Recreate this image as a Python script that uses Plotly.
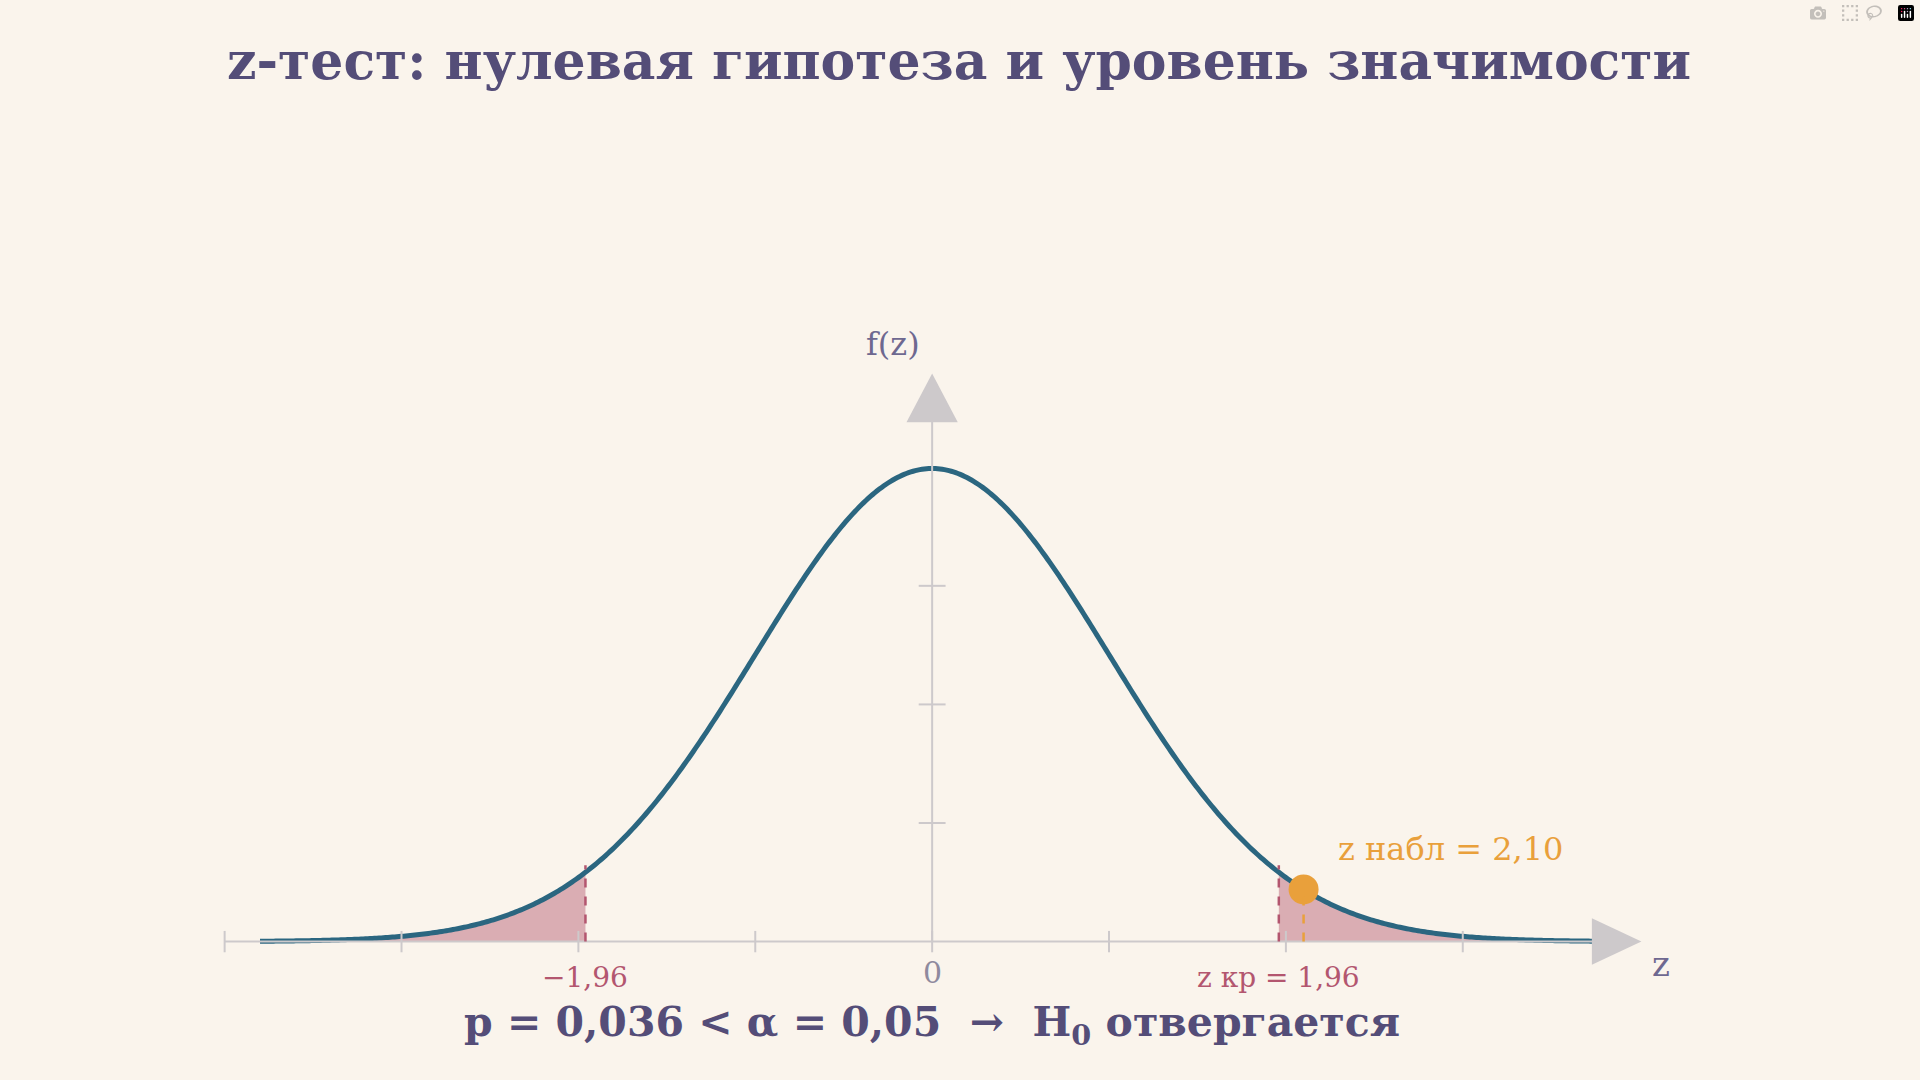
import numpy as np
import plotly.graph_objects as go

z_min, z_max = -3.8, 3.8
z_crit = 1.96
z_obs = 2.10
p_value = "0,036"
alpha = "0,05"
x_ticks = [-4, -3, -2, -1, 0, 1, 2, 3]
y_ticks = [0.1, 0.2, 0.3]

BG = "#FAF4EC"
NAVY = "#544D78"
CURVE = "#2B6680"
PINK = "#B3566F"
ORANGE = "#E9A03B"
GREY = "#CDC9CB"
FONT = "DejaVu Serif"

def pdf(z):
    return np.exp(-z**2 / 2) / np.sqrt(2 * np.pi)

z = np.linspace(z_min, z_max, 600)
fig = go.Figure()

for a, b in [(z_min, -z_crit), (z_crit, z_max)]:
    zz = np.linspace(a, b, 120)
    fig.add_trace(go.Scatter(x=np.concatenate([zz, [b, a]]), y=np.concatenate([pdf(zz), [0, 0]]),
                             fill="toself", fillcolor="rgba(179,86,111,0.45)", line=dict(width=0, simplify=False),
                             mode="lines", hoverinfo="skip"))

shapes = []
shapes.append(dict(type="line", x0=-4, x1=3.8, y0=0, y1=0, line=dict(color=GREY, width=2)))
shapes.append(dict(type="line", x0=0, x1=0, y0=0, y1=0.44, line=dict(color=GREY, width=2)))
shapes.append(dict(type="path", path="M 3.73,0.0196 L 4.01,0 L 3.73,-0.0196 Z", fillcolor=GREY, line=dict(width=0)))
shapes.append(dict(type="path", path="M -0.145,0.438 L 0,0.479 L 0.145,0.438 Z", fillcolor=GREY, line=dict(width=0)))
for t in x_ticks:
    shapes.append(dict(type="line", x0=t, x1=t, y0=-0.009, y1=0.009, line=dict(color=GREY, width=2)))
for t in y_ticks:
    shapes.append(dict(type="line", x0=-0.076, x1=0.076, y0=t, y1=t, line=dict(color=GREY, width=2)))
for s in (-z_crit, z_crit):
    shapes.append(dict(type="line", x0=s, x1=s, y0=0, y1=pdf(s) + 0.006, line=dict(color=PINK, width=2.5, dash="dash")))
shapes.append(dict(type="line", x0=z_obs, x1=z_obs, y0=0, y1=pdf(z_obs), line=dict(color=ORANGE, width=2.5, dash="dash")))
fig.update_layout(shapes=shapes)

fig.add_trace(go.Scatter(x=z, y=pdf(z), mode="lines", line=dict(color=CURVE, width=5, simplify=False), hoverinfo="skip"))
fig.add_trace(go.Scatter(x=[z_obs], y=[pdf(z_obs)], mode="markers",
                         marker=dict(color=ORANGE, size=30), hoverinfo="skip"))

def txt(x, y, s, size, color, bold=False):
    fig.add_annotation(x=x, y=y, text=f"<b>{s}</b>" if bold else s, showarrow=False,
                       font=dict(family=FONT, size=size, color=color), xanchor="center", yanchor="middle")

txt(0.15, 0.743, "z-тест: нулевая гипотеза и уровень значимости", 52, NAVY, True)
txt(-z_crit, -0.030, "−1,96", 28, PINK)
txt(0, -0.026, "0", 30, "#8F8A9E")
txt(z_crit, -0.030, "z кр = 1,96", 28, PINK)
txt(2.93, 0.0785, f"z набл = {z_obs:.2f}".replace(".", ","), 32, ORANGE)
txt(-0.22, 0.504, "f(z)", 32, "#6E6890")
txt(4.12, -0.019, "z", 34, "#6E6890")
txt(0.0, -0.070, f"p = {p_value} &lt; α = {alpha}  →  H<sub>0</sub> отвергается", 41, NAVY, True)

fig.update_layout(
    width=1920, height=1080, paper_bgcolor=BG, plot_bgcolor=BG, showlegend=False,
    margin=dict(l=0, r=0, t=0, b=0),
    xaxis=dict(range=[-5.27, 5.585], visible=False, fixedrange=True),
    yaxis=dict(range=[-0.1167, 0.794], visible=False, fixedrange=True),
)
fig.write_html("out.html", post_script="document.body.style.margin='0';document.body.style.background='#FAF4EC';")
